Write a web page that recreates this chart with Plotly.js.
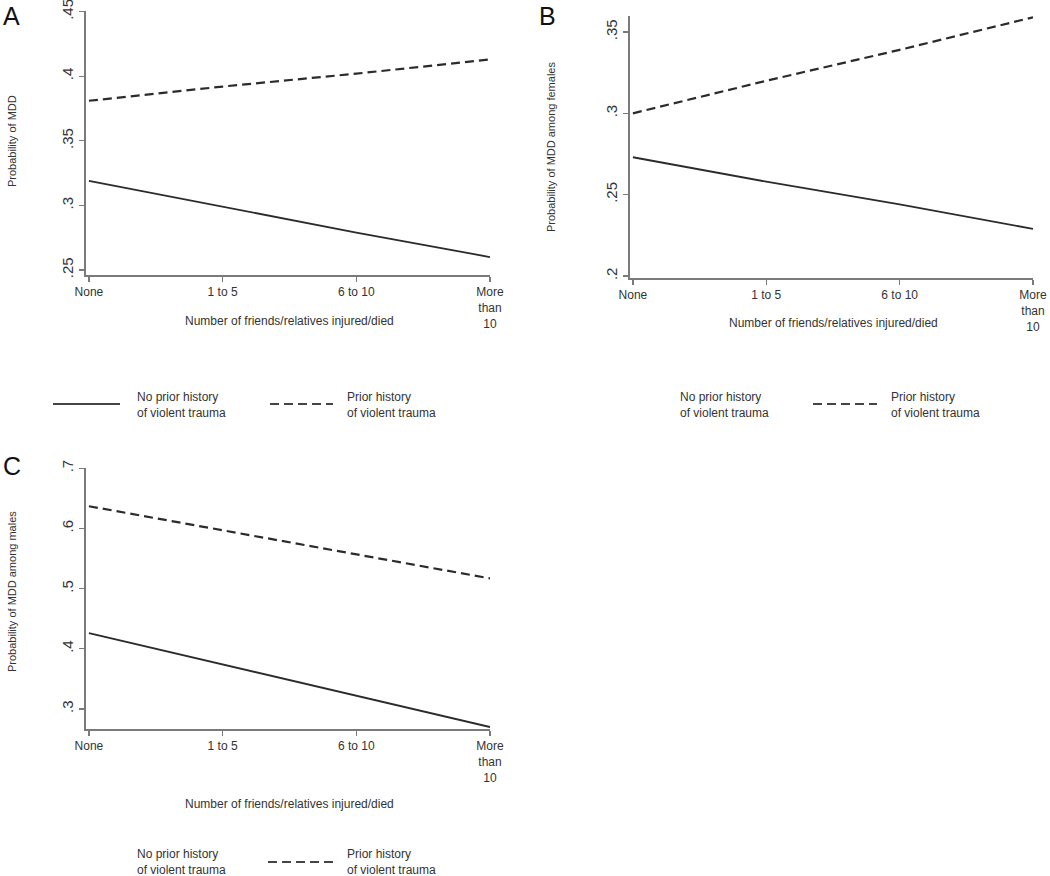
<!DOCTYPE html>
<html>
<head>
<meta charset="utf-8">
<script src="https://cdn.plot.ly/plotly-3.0.1.min.js"></script>
<style>html,body{margin:0;padding:0;background:#fff;}#chart{width:1050px;height:876px;}</style>
</head>
<body>
<div id="chart"></div>
<script>
// ---- data ----
const categories = ["None", "1 to 5", "6 to 10", "More<br>than<br>10"];
const catIndex = [0, 1, 2, 3];
const seriesNames = ["No prior history<br>of violent trauma", "Prior history<br>of violent trauma"];
// Panel A: Probability of MDD
const A_noPrior = [0.319, 0.299, 0.279, 0.260];
const A_prior   = [0.381, 0.392, 0.402, 0.413];
// Panel B: among females
const B_noPrior = [0.273, 0.258, 0.244, 0.229];
const B_prior   = [0.300, 0.320, 0.339, 0.359];
// Panel C: among males
const C_noPrior = [0.426, 0.374, 0.322, 0.270];
const C_prior   = [0.637, 0.597, 0.557, 0.517];
const A_ticks = [0.25, 0.30, 0.35, 0.40, 0.45];
const A_tickText = [".25", ".3", ".35", ".4", ".45"];
const B_ticks = [0.20, 0.25, 0.30, 0.35];
const B_tickText = [".2", ".25", ".3", ".35"];
const C_ticks = [0.3, 0.4, 0.5, 0.6, 0.7];
const C_tickText = [".3", ".4", ".5", ".6", ".7"];

const W = 1050, H = 876;
const px = x => x / W;
const py = y => 1 - y / H;
const FONT = "Liberation Sans, Arial, sans-serif";
const LINE = "#2b2b2b";
const AXC = "#7a7a7a";
const DASH = "9px,5px";

function tr(y, xa, ya, dashed) {
  return {x: catIndex, y: y, xaxis: xa, yaxis: ya, mode: "lines", showlegend: false,
    hoverinfo: "skip",
    line: {color: LINE, width: dashed ? 2.2 : 1.8, dash: dashed ? DASH : "solid"}};
}
const data = [
  tr(A_noPrior, "x", "y", false), tr(A_prior, "x", "y", true),
  tr(B_noPrior, "x2", "y2", false), tr(B_prior, "x2", "y2", true),
  tr(C_noPrior, "x3", "y3", false), tr(C_prior, "x3", "y3", true)
];

function xax(d0, d1, anchor) {
  return {domain: [px(d0), px(d1)], range: [-0.022, 3], anchor: anchor,
    tickvals: catIndex, ticktext: categories, ticks: "outside", ticklen: 5, tickwidth: 1.2, tickcolor: AXC,
    showline: true, linecolor: AXC, linewidth: 2, showgrid: false, zeroline: false,
    ticklabeloverflow: "allow",
    tickfont: {family: FONT, size: 12, color: "#333"}, fixedrange: true};
}
function yax(top, bot, range, tv, tt, anchor) {
  return {domain: [py(bot), py(top)], range: range, anchor: anchor,
    tickvals: tv, ticktext: tt, ticks: "outside", ticklen: 5, tickwidth: 1.2, tickcolor: AXC, tickangle: -90,
    showline: true, linecolor: AXC, linewidth: 2, showgrid: false, zeroline: false,
    ticklabeloverflow: "allow",
    tickfont: {family: FONT, size: 15, color: "#333"}, fixedrange: true};
}

const ann = [];
function text(x, y, t, size, opts) {
  ann.push(Object.assign({xref: "paper", yref: "paper", x: px(x), y: py(y), text: t, showarrow: false,
    xanchor: "center", yanchor: "middle",
    font: {family: FONT, size: size, color: "#333"}}, opts || {}));
}
// panel letters
const big = {xanchor: "left", font: {family: FONT, size: 25, color: "#111"}};
text(1, 16, "A", 25, big);
text(537, 16, "B", 25, big);
text(1, 466, "C", 25, big);
// y titles
text(12, 141, "Probability of MDD", 11, {textangle: -90});
text(551, 147, "Probability of MDD among females", 11, {textangle: -90});
text(12, 592, "Probability of MDD among males", 11, {textangle: -90});
// x titles
text(289, 321, "Number of friends/relatives injured/died", 12);
text(833, 323, "Number of friends/relatives injured/died", 12);
text(289, 804, "Number of friends/relatives injured/died", 12);
// legend texts
const lt = {xanchor: "left", align: "left"};
text(135, 405, seriesNames[0], 12, lt);
text(345, 405, seriesNames[1], 12, lt);
text(678, 405, seriesNames[0], 12, lt);
text(889, 405, seriesNames[1], 12, lt);
text(135, 862, seriesNames[0], 12, lt);
text(345, 862, seriesNames[1], 12, lt);

const shapes = [];
function key(x0, x1, y, dashed) {
  shapes.push({type: "line", xref: "paper", yref: "paper", x0: px(x0), x1: px(x1), y0: py(y), y1: py(y),
    line: {color: "#444", width: 2, dash: dashed ? DASH : "solid"}});
}
key(53, 120, 404, false);
key(270, 333, 404, true);
key(813, 877, 404, true);
key(268, 335, 862, true);

const layout = {
  width: W, height: H, margin: {l: 0, r: 0, t: 0, b: 0},
  paper_bgcolor: "#fff", plot_bgcolor: "#fff", showlegend: false,
  xaxis: xax(86, 490, "y"),
  yaxis: yax(11, 275, [0.2461, 0.4505], A_ticks, A_tickText, "x"),
  xaxis2: xax(630, 1033, "y2"),
  yaxis2: yax(16, 278, [0.1988, 0.3598], B_ticks, B_tickText, "x2"),
  xaxis3: xax(86, 490, "y3"),
  yaxis3: yax(468, 729, [0.2667, 0.7005], C_ticks, C_tickText, "x3"),
  annotations: ann, shapes: shapes
};
Plotly.newPlot("chart", data, layout, {staticPlot: true, displayModeBar: false});
</script>
</body>
</html>
